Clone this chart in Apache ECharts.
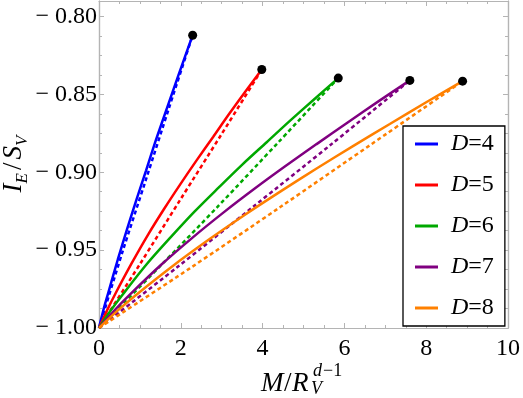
<!DOCTYPE html>
<html>
<head>
<meta charset="utf-8">
<script src="https://cdn.jsdelivr.net/npm/echarts@6/dist/echarts.min.js"></script>
<style>
html, body { margin: 0; padding: 0; background: #fff; }
#chart { width: 523px; height: 398px; }
</style>
</head>
<body>
<div id="chart"></div>
<script>
var names = ["D=4", "D=5", "D=6", "D=7", "D=8"];
var colors = ["#0000ff", "#ff0000", "#00a800", "#800080", "#ff8000"];

// solid curves
var solidX4 = [0, 0.11, 0.23, 0.46, 0.69, 0.92, 1.15, 1.37, 1.60, 1.83, 2.06, 2.29];
var solidY4 = [-1, -0.9882, -0.9771, -0.9560, -0.9362, -0.9172, -0.8989, -0.8810, -0.8635, -0.8461, -0.8289, -0.812];
var solidX5 = [0, 0.20, 0.40, 0.80, 1.19, 1.59, 1.99, 2.39, 2.79, 3.18, 3.58, 3.98];
var solidY5 = [-1, -0.9885, -0.9780, -0.9584, -0.9405, -0.9236, -0.9076, -0.8922, -0.8773, -0.8626, -0.8481, -0.834];
var solidX6 = [0, 0.29, 0.59, 1.17, 1.76, 2.34, 2.93, 3.51, 4.10, 4.68, 5.27, 5.85];
var solidY6 = [-1, -0.9886, -0.9781, -0.9589, -0.9415, -0.9251, -0.9097, -0.8949, -0.8807, -0.8667, -0.8529, -0.8395];
var solidX7 = [0, 0.38, 0.76, 1.52, 2.28, 3.04, 3.80, 4.56, 5.32, 6.08, 6.84, 7.60];
var solidY7 = [-1, -0.9886, -0.9784, -0.9594, -0.9421, -0.9259, -0.9106, -0.8960, -0.8819, -0.8680, -0.8543, -0.841];
var solidX8 = [0, 0.44, 0.89, 1.78, 2.67, 3.56, 4.45, 5.33, 6.22, 7.11, 8.00, 8.89];
var solidY8 = [-1, -0.9892, -0.9791, -0.9606, -0.9435, -0.9274, -0.9121, -0.8974, -0.8830, -0.8690, -0.8550, -0.8415];

// dashed curves
var dashX4 = [0, 0.57, 1.15, 1.72, 2.29];
var dashY4 = [-1, -0.9515, -0.9045, -0.8580, -0.812];
var dashX5 = [0, 1.00, 1.99, 2.99, 3.98];
var dashY5 = [-1, -0.9590, -0.9175, -0.8758, -0.834];
var dashX6 = [0, 1.46, 2.93, 4.39, 5.85];
var dashY6 = [-1, -0.9612, -0.9213, -0.8806, -0.8395];
var dashX7 = [0, 1.90, 3.80, 5.70, 7.60];
var dashY7 = [-1, -0.9612, -0.9215, -0.8816, -0.841];
var dashX8 = [0, 2.22, 4.45, 6.67, 8.89];
var dashY8 = [-1, -0.9617, -0.9220, -0.8818, -0.8415];

// end points (black dots)
var endX = [2.29, 3.98, 5.85, 7.60, 8.89];
var endY = [-0.812, -0.834, -0.8395, -0.841, -0.8415];

var xTicks = [0, 2, 4, 6, 8, 10];
var yTicks = [-1.00, -0.95, -0.90, -0.85, -0.80];

var solidX = [solidX4, solidX5, solidX6, solidX7, solidX8];
var solidY = [solidY4, solidY5, solidY6, solidY7, solidY8];
var dashX = [dashX4, dashX5, dashX6, dashX7, dashX8];
var dashY = [dashY4, dashY5, dashY6, dashY7, dashY8];

function pairs(xs, ys) {
  return xs.map(function (x, i) { return [x, ys[i]]; });
}

var serif = "Liberation Serif";
var frameColor = "#b4b4b4";
var tickRich = { t: { fontFamily: serif, fontSize: 24, color: "#000" } };

var series = [];
names.forEach(function (n, k) {
  series.push({
    name: n,
    type: "line",
    data: pairs(solidX[k], solidY[k]),
    showSymbol: false,
    smooth: 0.3,
    color: colors[k],
    lineStyle: { color: colors[k], width: 2.5 },
    itemStyle: { color: colors[k] },
    z: 3
  });
});
names.forEach(function (n, k) {
  series.push({
    name: n + " dashed",
    type: "line",
    data: pairs(dashX[k], dashY[k]),
    showSymbol: false,
    smooth: 0.3,
    lineStyle: { color: colors[k], width: 2.5, type: [4, 3] },
    z: 2
  });
});
series.push({
  name: "end",
  type: "scatter",
  data: pairs(endX, endY),
  symbolSize: 9,
  itemStyle: { color: "#000", opacity: 1 },
  z: 5
});

function yFmt(v) {
  return "{t|" + (v < 0 ? "\u2212 " : "") + Math.abs(v).toFixed(2) + "}";
}
function xFmt(v) {
  return "{t|" + v + "}";
}

function xAxisCfg(pos, labels) {
  return {
    type: "value",
    position: pos,
    min: 0,
    max: 10,
    interval: 2,
    axisLine: { show: true, lineStyle: { color: frameColor, width: 1.2 } },
    axisTick: { show: true, inside: true, length: 5, lineStyle: { color: frameColor } },
    minorTick: { show: true, splitNumber: 4, length: 3, lineStyle: { color: frameColor } },
    axisLabel: {
      show: labels, color: "#000", fontFamily: serif, fontSize: 24, margin: 9,
      formatter: xFmt, rich: tickRich, customValues: xTicks
    },
    splitLine: { show: false }
  };
}

function yAxisCfg(pos, step, len, labels) {
  return {
    type: "value",
    position: pos,
    min: -1,
    max: -0.79,
    interval: step,
    axisLine: { show: true, lineStyle: { color: frameColor, width: 1.2 } },
    axisTick: { show: true, inside: true, length: len, lineStyle: { color: frameColor } },
    axisLabel: {
      show: labels, color: "#000", fontFamily: serif, fontSize: 24, margin: 2,
      formatter: yFmt, rich: tickRich, customValues: yTicks
    },
    splitLine: { show: false }
  };
}

var chart = echarts.init(document.getElementById("chart"));
chart.setOption({
  animation: false,
  backgroundColor: "#fff",
  textStyle: { fontFamily: serif },
  grid: { left: 99, right: 15, top: 1, bottom: 70 },
  xAxis: [xAxisCfg("bottom", true), xAxisCfg("top", false)],
  yAxis: [
    yAxisCfg("left", 0.05, 5, true),
    yAxisCfg("left", 0.0125, 3, false),
    yAxisCfg("right", 0.05, 5, false),
    yAxisCfg("right", 0.0125, 3, false)
  ],
  legend: {
    data: names,
    orient: "vertical",
    left: 403,
    top: 126,
    icon: "rect",
    itemWidth: 23,
    itemHeight: 3,
    itemGap: 17,
    padding: [6, 11, 6, 12],
    borderColor: "#000",
    borderWidth: 1.3,
    backgroundColor: "#fff",
    selectedMode: false,
    formatter: function (name) {
      return "{i|D}{n|" + name.slice(1) + "}";
    },
    textStyle: {
      color: "#000",
      fontFamily: serif,
      fontSize: 24,
      lineHeight: 22,
      padding: [0, 0, 0, 8],
      rich: {
        i: { fontFamily: serif, fontStyle: "italic", fontSize: 24, lineHeight: 22, color: "#000" },
        n: { fontFamily: serif, fontSize: 24, lineHeight: 22, color: "#000" }
      }
    }
  },
  graphic: [
    {
      type: "text",
      x: 16,
      y: 164,
      rotation: Math.PI / 2,
      style: {
        text: "{i|I}{s|E}{n|/}{i|S}{s|V}",
        align: "center",
        verticalAlign: "middle",
        fill: "#000",
        rich: {
          i: { fontFamily: serif, fontStyle: "italic", fontSize: 27, lineHeight: 27, verticalAlign: "top" },
          n: { fontFamily: serif, fontSize: 27, lineHeight: 27, verticalAlign: "top", padding: [0, 3, 0, 3] },
          s: { fontFamily: serif, fontStyle: "italic", fontSize: 17, lineHeight: 31, verticalAlign: "bottom" }
        }
      }
    },
    { type: "text", x: 261, y: 384, style: { text: "M", font: "italic 27px 'Liberation Serif'", fill: "#000", verticalAlign: "middle" } },
    { type: "text", x: 284, y: 384, style: { text: "/", font: "27px 'Liberation Serif'", fill: "#000", verticalAlign: "middle" } },
    { type: "text", x: 292, y: 384, style: { text: "R", font: "italic 27px 'Liberation Serif'", fill: "#000", verticalAlign: "middle" } },
    { type: "text", x: 313, y: 371, style: { text: "d", font: "italic 18px 'Liberation Serif'", fill: "#000", verticalAlign: "middle" } },
    { type: "text", x: 323, y: 371, style: { text: "\u22121", font: "18px 'Liberation Serif'", fill: "#000", verticalAlign: "middle" } },
    { type: "text", x: 311, y: 389, style: { text: "V", font: "italic 18px 'Liberation Serif'", fill: "#000", verticalAlign: "middle" } }
  ],
  series: series
});
</script>
</body>
</html>
